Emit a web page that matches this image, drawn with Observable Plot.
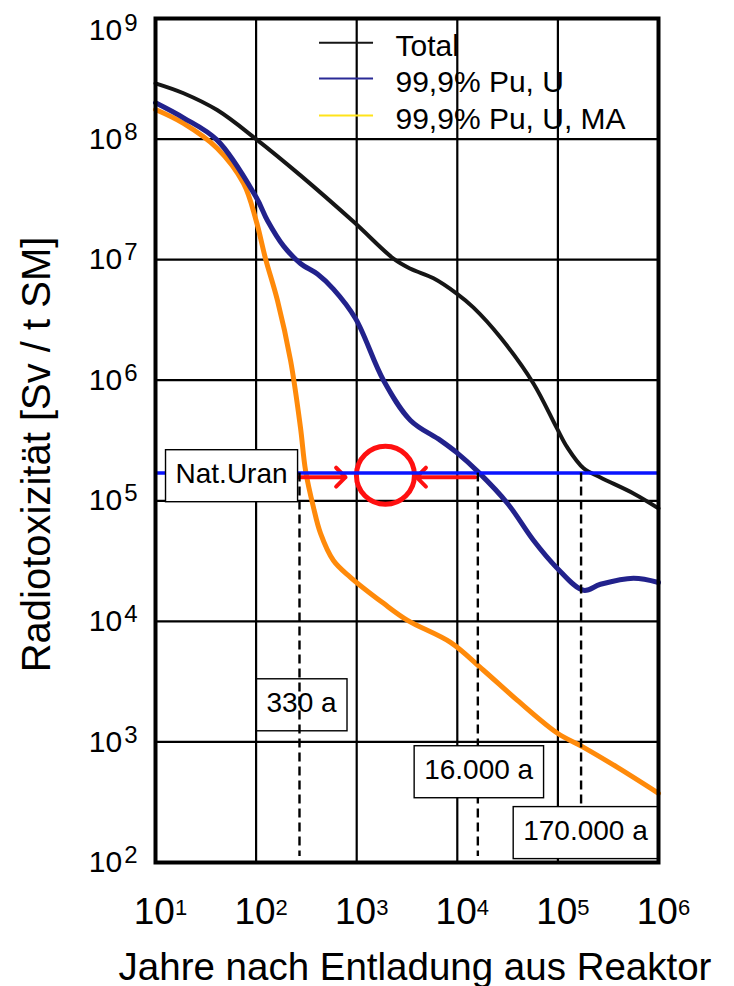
<!DOCTYPE html>
<html><head><meta charset="utf-8">
<script src="https://cdn.jsdelivr.net/npm/d3@7"></script>
<script src="https://cdn.jsdelivr.net/npm/@observablehq/plot@0.6"></script>
<style>html,body{margin:0;padding:0;background:#fff;overflow:hidden}</style>
</head><body><div id="chart"></div>
<script>
const FONT = "'Liberation Sans', Arial, Helvetica, sans-serif";

// ---- data (years after discharge, radiotoxicity in Sv / t SM) ----
const seriesNames = ["Total", "99,9% Pu, U", "99,9% Pu, U, MA"];

const totalYears  = [10, 19, 41, 100, 276, 950, 2320, 3430, 5800, 9800, 14500, 26900, 57100, 96800, 124000, 180000, 265000, 564000, 1000000];
const totalValues = [2.9e8, 2.4e8, 1.74e8, 1.0e8, 5.0e7, 2.03e7, 1.02e7, 8.4e6, 7.0e6, 5.25e6, 4.0e6, 2.26e6, 9.4e5, 4.06e5, 2.77e5, 1.86e5, 1.56e5, 1.15e5, 8.65e4];

const puuYears  = [10, 19, 41, 100, 130, 187, 276, 407, 587, 973, 1850, 3430, 6800, 9820, 16300, 31600, 57100, 96800, 180000, 265000, 564000, 1000000];
const puuValues = [2.0e8, 1.5e8, 9.8e7, 3.3e7, 2.1e7, 1.3e7, 9.3e6, 7.6e6, 5.7e6, 3.25e6, 9.95e5, 4.64e5, 3.17e5, 2.52e5, 1.72e5, 9.5e4, 4.7e4, 2.8e4, 1.81e4, 2.03e4, 2.28e4, 2.1e4];

const puumaYears  = [10, 19, 41, 75, 100, 124, 163, 220, 276, 310, 372, 437, 587, 867, 1850, 3200, 8560, 18200, 39600, 99100, 180000, 391000, 1000000];
const puumaValues = [1.76e8, 1.35e8, 8.4e7, 4.29e7, 2.11e7, 1.02e7, 4.59e6, 1.46e6, 4.06e5, 1.79e5, 8.8e4, 5.37e4, 3.2e4, 2.32e4, 1.41e4, 1.02e4, 6.7e3, 3.93e3, 2.21e3, 1.18e3, 902, 615, 375];

const natUranValue = 1.7e5;
const natUranLabel = "Nat.Uran";

const crossingYears  = [270, 16000, 170000];
const crossingLabels = ["330 a", "16.000 a", "170.000 a"];

const xTicks = [1e1, 1e2, 1e3, 1e4, 1e5, 1e6];
const yTicks = [1e2, 1e3, 1e4, 1e5, 1e6, 1e7, 1e8, 1e9];

const xTitle = "Jahre nach Entladung aus Reaktor";
const yTitle = "Radiotoxizität [Sv / t SM]";

// ---- layout / annotation placement (data coordinates) ----
const seriesColors = ["#161616", "#22228c", "#ff8a0a"];
const legendColors = ["#161616", "#2a2a96", "#ffe31a"];
const legendLineX = [427, 1470];
const legendTextX = 2430;
const legendY = [6.3e8, 3.18e8, 1.57e8];

const labelPos = [
  {x: 283, y: 2090},      // 330 a
  {x: 16300, y: 582},     // 16.000 a
  {x: 188000, y: 182}     // 170.000 a
];
const natLabelPos = {x: 57, y: 1.66e5};
const dashBottom = 112;
const circlePos = {x: 1930, y: 1.63e5};
const arrowY = 1.57e5;
const arrowSpans = [[258, 775], [15100, 3930]];

// ---- build tables ----
const mk = (ys, vs, s) => ys.map((y, i) => ({year: y, value: vs[i], series: s}));
const lines = [
  mk(puumaYears, puumaValues, seriesNames[2]),
  mk(puuYears, puuValues, seriesNames[1]),
  mk(totalYears, totalValues, seriesNames[0])
];
const crossings = crossingYears.map((y, i) => ({year: y, label: crossingLabels[i], ...labelPos[i]}));
const legend = seriesNames.map((n, i) => ({name: n, color: legendColors[i], y: legendY[i]}));
const arrows = arrowSpans.map(([a, b]) => ({x1: a, x2: b, y: arrowY}));
const fmt = d => "10^" + Math.round(Math.log10(d));

const boxed = () => "boxed-label";

const chart = Plot.plot({
  width: 734,
  height: 986,
  marginLeft: 155,
  marginRight: 76,
  marginTop: 18,
  marginBottom: 124,
  style: {fontFamily: FONT, background: "#fff", color: "#000", overflow: "visible"},
  x: {type: "log", domain: [10, 1e6]},
  y: {type: "log", domain: [100, 1e9]},
  marks: [
    Plot.ruleX(xTicks, {stroke: "#000", strokeWidth: 2.2}),
    Plot.ruleY(yTicks, {stroke: "#000", strokeWidth: 2.2}),
    Plot.line(lines[0], {x: "year", y: "value", stroke: seriesColors[2], strokeWidth: 5, curve: "catmull-rom"}),
    Plot.line(lines[1], {x: "year", y: "value", stroke: seriesColors[1], strokeWidth: 5, curve: "catmull-rom"}),
    Plot.line(lines[2], {x: "year", y: "value", stroke: seriesColors[0], strokeWidth: 4, curve: "catmull-rom"}),
    Plot.arrow(arrows, {x1: "x1", x2: "x2", y1: "y", y2: "y", stroke: "#ff1010", strokeWidth: 4, headLength: 5, headAngle: 90}),
    Plot.dot([circlePos], {x: "x", y: "y", r: 29, stroke: "#ff1010", strokeWidth: 5, fill: "none"}),
    Plot.ruleY([natUranValue], {stroke: "#0a14ff", strokeWidth: 3.5}),
    Plot.text(crossings.slice(0, 1), {x: "x", y: "y", text: "label", fontSize: 28, fill: "#000", ariaLabel: boxed}),
    Plot.ruleX(crossings, {x: "year", y1: natUranValue, y2: dashBottom, stroke: "#000", strokeWidth: 2.4, strokeDasharray: "9,5"}),
    Plot.text(crossings.slice(1), {x: "x", y: "y", text: "label", fontSize: 28, fill: "#000", ariaLabel: boxed}),
    Plot.text([natLabelPos], {x: "x", y: "y", text: () => natUranLabel, fontSize: 28, fill: "#000", ariaLabel: boxed}),
    Plot.ruleY(legend, {y: "y", x1: legendLineX[0], x2: legendLineX[1], stroke: "color", strokeWidth: 2}),
    Plot.text(legend, {y: "y", x: legendTextX, text: "name", textAnchor: "start", dy: 4, fontSize: 30, fill: "#000"}),
    Plot.frame({stroke: "#000", strokeWidth: 4}),
    Plot.axisX({ticks: xTicks, tickFormat: fmt, tickSize: 0, tickPadding: 35, fontSize: 37, dx: 5, label: null}),
    Plot.axisY({ticks: yTicks, tickFormat: fmt, tickSize: 0, tickPadding: 18, fontSize: 30, label: null}),
    Plot.text([xTitle], {text: d => d, frameAnchor: "bottom", textAnchor: "middle", lineAnchor: "top", dy: 90, dx: 8, fontSize: 38.5, fill: "#000"}),
    Plot.text([yTitle], {text: d => d, frameAnchor: "left", textAnchor: "middle", rotate: -90, dx: -118, dy: 14, fontSize: 40, fill: "#000"})
  ]
});

document.getElementById("chart").appendChild(chart);

// superscript exponents in tick labels
const NS = "http://www.w3.org/2000/svg";
chart.querySelectorAll("text").forEach(t => {
  const m = /^10\^(\d)$/.exec(t.textContent);
  if (!m) return;
  const isY = !!t.closest('g[aria-label^="y-axis"]');
  t.textContent = "10";
  t.setAttribute("font-size", isY ? "30" : "37");
  t.style.fontSize = isY ? "30px" : "37px";
  const s = document.createElementNS(NS, "tspan");
  s.setAttribute("dy", "-9");
  if (isY) s.setAttribute("dx", "2");
  s.style.fontSize = isY ? "24px" : "22px";
  s.textContent = m[1];
  t.appendChild(s);
  if (isY && m[1] === "9") {
    t.setAttribute("transform", (t.getAttribute("transform") || "") + " translate(0,12)");
  }
});

// white boxes behind boxed labels
chart.querySelectorAll('text[aria-label="boxed-label"]').forEach(t => {
  const b = t.getBBox();
  const r = document.createElementNS(NS, "rect");
  const padX = 10, h = 52;
  r.setAttribute("x", b.x - padX);
  r.setAttribute("width", b.width + 2 * padX);
  r.setAttribute("y", b.y + b.height / 2 - h / 2 + 2);
  r.setAttribute("height", h);
  r.setAttribute("fill", "#fff");
  r.setAttribute("stroke", "#000");
  r.setAttribute("stroke-width", "1.4");
  if (t.getAttribute("transform")) r.setAttribute("transform", t.getAttribute("transform"));
  t.parentNode.insertBefore(r, t);
});
</script>
</body></html>
